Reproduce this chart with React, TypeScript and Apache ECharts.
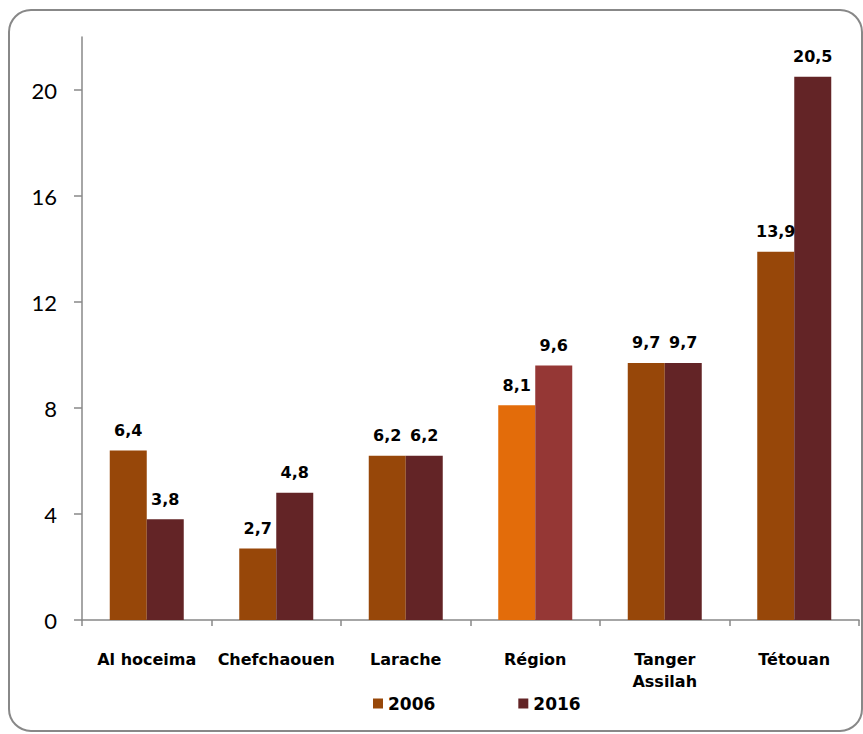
import React, { useEffect, useRef } from "react";
import * as echarts from "echarts";

const categories = ["Al hoceima", "Chefchaouen", "Larache", "Région", "Tanger\nAssilah", "Tétouan"];
const values2006 = [6.4, 2.7, 6.2, 8.1, 9.7, 13.9];
const values2016 = [3.8, 4.8, 6.2, 9.6, 9.7, 20.5];
const highlightIndex = 3;

const C2006 = "#974709";
const C2016 = "#632426";
const C2006_HL = "#E36C0A";
const C2016_HL = "#953735";

export default function App() {
  const ref = useRef<HTMLDivElement>(null);
  useEffect(() => {
    const chart = echarts.init(ref.current!, null, { renderer: "svg" });
    const fmt = (p: any) => String(p.value).replace(".", ",");
    const labelStyle = {
      show: true,
      position: "top",
      distance: 12,
      formatter: fmt,
      fontFamily: "DejaVu Sans",
      fontWeight: "bold",
      fontSize: 16,
      color: "#000",
    };
    chart.setOption({
      animation: false,
      backgroundColor: "#fff",
      graphic: [
        {
          type: "rect",
          shape: { x: 9, y: 10, width: 853, height: 721, r: 22 },
          style: { fill: "none", stroke: "#888", lineWidth: 2 },
          silent: true,
          z: 100,
        },
      ],
      grid: { left: 82, right: 4, top: 37, bottom: 114, containLabel: false },
      legend: {
        left: 368,
        top: 690,
        itemWidth: 10,
        itemHeight: 10,
        itemGap: 83,
        icon: "rect",
        textStyle: { fontFamily: "DejaVu Sans", fontWeight: "bold", fontSize: 17, color: "#000" },
        data: ["2006", "2016"],
      },
      xAxis: {
        type: "category",
        data: categories,
        axisLine: { lineStyle: { color: "#888", width: 1.5 } },
        axisTick: { show: true, length: 6, lineStyle: { color: "#888", width: 1.5 } },
        axisLabel: {
          margin: 28,
          fontFamily: "DejaVu Sans",
          fontWeight: "bold",
          fontSize: 16,
          lineHeight: 22,
          color: "#000",
          interval: 0,
        },
      },
      yAxis: {
        type: "value",
        min: 0,
        max: 22,
        interval: 4,
        splitLine: { show: false },
        axisLine: { show: true, lineStyle: { color: "#888", width: 1.5 } },
        axisTick: { show: true, length: 8, lineStyle: { color: "#888", width: 1.5 } },
        axisLabel: {
          margin: 25,
          fontFamily: "Lato",
          fontSize: 22,
          color: "#000",
          showMaxLabel: false,
        },
      },
      series: [
        {
          name: "2006",
          type: "bar",
          barWidth: 37,
          barGap: "0%",
          itemStyle: { color: C2006 },
          label: labelStyle,
          data: values2006.map((v, i) =>
            i === highlightIndex ? { value: v, itemStyle: { color: C2006_HL } } : v
          ),
        },
        {
          name: "2016",
          type: "bar",
          barWidth: 37,
          barGap: "0%",
          itemStyle: { color: C2016 },
          label: labelStyle,
          data: values2016.map((v, i) =>
            i === highlightIndex ? { value: v, itemStyle: { color: C2016_HL } } : v
          ),
        },
      ],
    });
    return () => chart.dispose();
  }, []);
  return <div ref={ref} style={{ width: 863, height: 734, position: "absolute", left: 0, top: 0 }} />;
}
